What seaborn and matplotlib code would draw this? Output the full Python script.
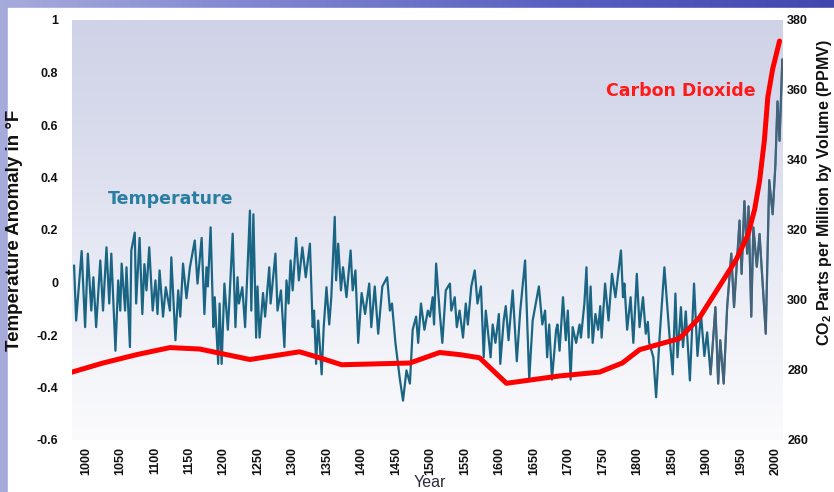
import numpy as np
import matplotlib
matplotlib.use("Agg")
import matplotlib.pyplot as plt
import seaborn as sns
from matplotlib.colors import LinearSegmentedColormap
from matplotlib.patches import Rectangle

# temperature anomaly (deg F) (peaks and troughs)
temp_years = [983, 986, 994, 999, 1003, 1008, 1011, 1015, 1021, 1025, 1030, 1034, 1037, 1043, 1047,
              1050, 1052, 1057, 1059, 1064, 1066, 1071, 1073, 1078, 1082, 1085, 1088, 1092, 1097, 1101,
              1104, 1107, 1112, 1116, 1122, 1124, 1130, 1134, 1137, 1141, 1146,
              1151, 1158, 1162, 1168, 1172, 1175, 1177, 1181, 1185, 1187, 1192, 1194, 1197, 1201, 1206,
              1208, 1213, 1217, 1220, 1222, 1227, 1231, 1238, 1240, 1243, 1247, 1249, 1252, 1257, 1260,
              1266, 1268, 1275, 1278, 1283, 1288, 1291, 1294, 1297, 1300, 1305, 1309, 1314, 1319,
              1325, 1329, 1331, 1334, 1337, 1342, 1345, 1349, 1353, 1356, 1361, 1363, 1366, 1370, 1373,
              1378, 1384, 1387, 1391, 1395, 1400, 1405, 1411, 1414, 1419, 1424, 1430, 1437, 1441, 1444,
              1449, 1455, 1460, 1465, 1470, 1474, 1479, 1482, 1486, 1491, 1496,
              1499, 1503, 1505, 1508, 1513, 1517, 1522, 1528, 1530, 1535, 1538, 1542, 1547, 1551, 1554,
              1559, 1564, 1568, 1573, 1577, 1580, 1587, 1590, 1594, 1599, 1601, 1606, 1609, 1613, 1619,
              1625, 1630, 1637, 1643, 1648, 1657, 1662, 1666, 1669,
              1672, 1676, 1682, 1684, 1687, 1692, 1696, 1699, 1703, 1706, 1711, 1716, 1718, 1723, 1726,
              1729, 1732, 1735, 1739, 1743, 1746, 1748, 1753, 1758, 1763, 1768, 1776, 1779, 1781, 1785,
              1790, 1794, 1799, 1803, 1808, 1812, 1815, 1817, 1823, 1827, 1832, 1839, 1846,
              1851, 1855, 1858, 1863, 1866, 1870, 1876, 1882, 1887, 1892, 1897, 1901, 1906, 1913, 1917,
              1920, 1925, 1930, 1936, 1940, 1948, 1951, 1955, 1959, 1961, 1965, 1968, 1973, 1977, 1986,
              1991, 1996, 2000, 2003, 2006, 2010]
temp_anom = [0.065, -0.145, 0.12, -0.17, 0.11, -0.107, 0.02, -0.17, 0.084, -0.107, 0.134, -0.08, 0.11, -0.26, 0.008,
             -0.107, 0.072, -0.107, 0.058, -0.246, 0.122, 0.19, -0.08, 0.17, -0.12, 0.07, -0.03, 0.134, -0.107, 0.008,
             -0.12, 0.046, -0.13, -0.018, -0.107, 0.096, -0.22, -0.03, -0.13, 0.072, -0.06,
             0.058, 0.16, -0.004, 0.17, -0.12, 0.058, -0.015, 0.21, -0.17, -0.056, -0.31, -0.08, -0.31, -0.004, -0.18,
             -0.08, 0.186, -0.17, 0.02, -0.08, -0.018, -0.17, 0.274, -0.107, 0.26, -0.21, -0.015, -0.21, -0.04, -0.13,
             0.058, -0.08, 0.11, -0.107, -0.03, -0.246, 0.008, -0.08, 0.084, -0.03, 0.17, 0.008, 0.134, 0.02,
             0.148, -0.17, -0.107, -0.31, -0.145, -0.35, -0.17, -0.018, -0.16, -0.056, 0.25, 0.008, 0.148, -0.03, 0.058,
             -0.056, 0.122, -0.03, 0.046, -0.23, -0.04, -0.12, -0.004, -0.17, -0.015, -0.195, -0.015, 0.02, -0.107, -0.08,
             -0.23, -0.36, -0.45, -0.335, -0.385, -0.18, -0.13, -0.23, -0.08, -0.18, -0.107,
             -0.13, -0.056, -0.16, 0.072, -0.107, -0.23, -0.03, -0.004, -0.107, -0.056, -0.17, -0.107, -0.21, -0.08, -0.16,
             -0.015, 0.046, -0.08, -0.015, -0.285, -0.107, -0.285, -0.16, -0.23, -0.12, -0.31, -0.145, -0.09, -0.22, -0.03,
             -0.3, -0.107, 0.084, -0.37, -0.145, -0.015, -0.16, -0.107, -0.285,
             -0.16, -0.37, -0.18, -0.16, -0.26, -0.056, -0.22, -0.107, -0.37, -0.17, -0.23, -0.16, -0.21, -0.08, 0.058,
             -0.21, -0.015, -0.23, -0.12, -0.18, -0.09, -0.21, -0.004, -0.145, 0.033, -0.056, 0.122, -0.056, -0.004, -0.18,
             -0.056, -0.23, 0.033, -0.17, -0.056, -0.195, -0.15, -0.23, -0.285, -0.437, -0.21, 0.058, -0.19,
             -0.35, -0.042, -0.285, -0.094, -0.246, -0.11, -0.373, -0.004, -0.28, -0.12, -0.28, -0.19, -0.35, -0.094, -0.385,
             -0.22, -0.385, -0.094, 0.11, -0.094, 0.236, 0.033, 0.31, 0.11, 0.29, -0.13, 0.21, 0.06, 0.185, -0.195,
             0.39, 0.26, 0.45, 0.69, 0.54, 0.85]

# carbon dioxide (ppmv)
co2_years = [980, 1025, 1074, 1122, 1165, 1238, 1310, 1339, 1371, 1470, 1513, 1542, 1571, 1610, 1687,
             1745, 1778, 1803, 1861, 1890, 1919, 1943, 1960, 1970, 1977, 1984, 1989, 1996, 2006]
co2_ppm = [279.4, 282, 284.4, 286.4, 286, 283, 285.2, 283.5, 281.5, 282, 285, 284.4, 283.5, 276.2, 278.3,
           279.4, 282, 285.8, 289, 295, 304, 311.5, 318.5, 326, 334, 345.6, 358, 366, 374]

year_ticks = list(range(1000, 2001, 50))
temp_ticks = [1, 0.8, 0.6, 0.4, 0.2, 0, -0.2, -0.4, -0.6]
temp_tick_labels = ['1', '0.8', '0.6', '0.4', '0.2', '0', '-0.2', '-0.4', '-0.6']
co2_ticks = [260, 280, 300, 320, 340, 360, 380]

sns.set_style("white")
plt.rcParams['font.family'] = ['Liberation Sans', 'DejaVu Sans']
plt.rcParams['mathtext.default'] = 'regular'
plt.rcParams['text.color'] = '#111111'
plt.rcParams['axes.labelcolor'] = '#111111'
plt.rcParams['xtick.color'] = '#111111'
plt.rcParams['ytick.color'] = '#111111'

W, H = 834, 492
fig = plt.figure(figsize=(W / 100, H / 100), dpi=100)

# slide background: blue gradient with white panel
bg = fig.add_axes([0, 0, 1, 1], zorder=-10)
slide_cmap = LinearSegmentedColormap.from_list('slide', ['#a7abdc', '#7d83cf', '#5a60c0', '#4147ae'])
bg.imshow(np.linspace(0, 1, 256)[None, :], aspect='auto', cmap=slide_cmap, extent=[0, 1, 0, 1])
bg.add_patch(Rectangle((8 / W, 0), 1, 1 - 8 / H, color='white', transform=bg.transAxes))
bg.axis('off')

ax = fig.add_axes([72 / W, 52 / H, 711 / W, 420 / H])
x0, x1 = 980, 2011
ax.set_xlim(x0, x1)
ax.set_ylim(-0.6, 1)

plot_cmap = LinearSegmentedColormap.from_list('plotbg', ['#fbfbfd', '#f3f4f9', '#e9ebf5', '#dfe1f0', '#d6d9eb', '#d0d3e7'])
ax.imshow(np.linspace(0, 1, 256)[:, None], aspect='auto', cmap=plot_cmap, origin='lower',
          extent=[x0, x1, -0.6, 1], zorder=0)

sns.lineplot(x=temp_years, y=temp_anom, ax=ax, color='#1a6584', lw=1.6, estimator=None, zorder=2)
inst = [i for i, yr in enumerate(temp_years) if yr >= 1905]
sns.lineplot(x=[temp_years[i] for i in inst], y=[temp_anom[i] for i in inst], ax=ax,
             color='#566176', lw=1.4, alpha=0.75, estimator=None, zorder=3)

ax.set_xticks(year_ticks)
ax.set_xticklabels([str(y) for y in year_ticks], rotation=90, fontsize=9, fontweight='bold')
ax.set_yticks(temp_ticks)
ax.set_yticklabels(temp_tick_labels, fontsize=9, fontweight='bold')
ax.tick_params(axis='both', length=0)
ax.tick_params(axis='x', pad=5)
ax.tick_params(axis='y', pad=10)
ax.set_xlabel('Year', fontsize=11.5, color='#2b2b3b')
ax.xaxis.set_label_coords(0.503, -0.083)
ax.set_ylabel('Temperature Anomaly in °F', fontsize=13.5, fontweight='bold')
ax.yaxis.set_label_coords(-0.069, 0.5)
for s in ax.spines.values():
    s.set_visible(False)

ax2 = ax.twinx()
sns.lineplot(x=co2_years, y=co2_ppm, ax=ax2, color='#ff0000', lw=3.6, estimator=None)
ax2.set_ylim(260, 380)
ax2.set_yticks(co2_ticks)
ax2.set_yticklabels([str(t) for t in co2_ticks], fontsize=9, fontweight='bold')
ax2.tick_params(axis='y', length=0, pad=3)
ax2.set_ylabel('CO$_2$ Parts per Million by Volume (PPMV)', fontsize=11.5, fontweight='bold')
ax2.yaxis.set_label_coords(1.045, 0.588)
for s in ax2.spines.values():
    s.set_visible(False)

ax.text(1032, 0.32, 'Temperature', color='#2a7ea0', fontsize=12.5, fontweight='bold',
        family='DejaVu Sans', ha='left', va='center', zorder=5)
ax.text(1755, 0.73, 'Carbon Dioxide', color='#ff1a1a', fontsize=12.5, fontweight='bold',
        family='DejaVu Sans', ha='left', va='center', zorder=5)

fig.savefig('out.png', dpi=100)
